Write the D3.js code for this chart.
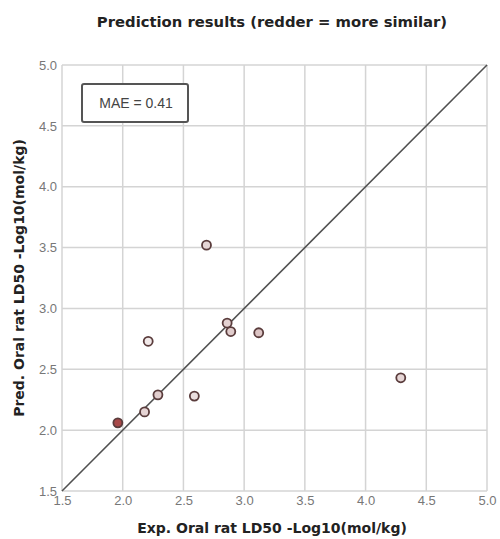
<!DOCTYPE html>
<html>
<head>
<meta charset="utf-8">
<script src="https://cdn.jsdelivr.net/npm/d3@7"></script>
<style>
  body { margin: 0; background: #fff; }
  text { font-family: "Liberation Sans", Arial, sans-serif; }
  .lbl { font-family: "DejaVu Sans", Verdana, sans-serif; font-weight: bold; }
</style>
</head>
<body>
<div id="chart"></div>
<script>
var expValues = [2.69, 2.21, 2.86, 2.89, 3.12, 4.29, 2.59, 2.29, 2.18, 1.96];
var predValues = [3.52, 2.73, 2.88, 2.81, 2.80, 2.43, 2.28, 2.29, 2.15, 2.06];
var fillColors = ["#e6d6d6", "#f2eaea", "#e4d2d2", "#e0cccc", "#dcc4c4", "#e6d6d6", "#eadede", "#e2cece", "#e6d4d4", "#a84848"];
var tickValues = [1.5, 2.0, 2.5, 3.0, 3.5, 4.0, 4.5, 5.0];
var maeText = "MAE = 0.41";

var width = 500, height = 539;
var plotLeft = 62, plotRight = 487, plotTop = 65, plotBottom = 491;

var svg = d3.select("#chart")
    .append("svg")
    .attr("width", width)
    .attr("height", height)

var x = d3.scaleLinear().domain([1.5, 5.0]).range([plotLeft, plotRight]);
var y = d3.scaleLinear().domain([1.5, 5.0]).range([plotBottom, plotTop]);

// grid
var grid = svg.append("g").attr("class", "grid")
grid.selectAll(".vline")
    .data(tickValues)
    .enter().append("line")
    .attr("class", "vline")
    .attr("x1", d => x(d)).attr("x2", d => x(d))
    .attr("y1", plotTop).attr("y2", plotBottom)
    .attr("stroke", "#d4d4d4")
    .attr("stroke-width", 1.5)
grid.selectAll(".hline")
    .data(tickValues)
    .enter().append("line")
    .attr("class", "hline")
    .attr("y1", d => y(d)).attr("y2", d => y(d))
    .attr("x1", plotLeft).attr("x2", plotRight)
    .attr("stroke", "#d4d4d4")
    .attr("stroke-width", 1.5)

// axes (labels only, gray)
svg.append("g")
    .attr("transform", "translate(0," + plotBottom + ")")
    .call(d3.axisBottom(x).tickValues(tickValues).tickFormat(d3.format(".1f")).tickSize(0).tickPadding(5))
svg.append("g")
    .attr("transform", "translate(" + plotLeft + ",0)")
    .call(d3.axisLeft(y).tickValues(tickValues).tickFormat(d3.format(".1f")).tickSize(0).tickPadding(5))

svg.selectAll(".domain").remove()
svg.selectAll(".tick text")
    .attr("fill", "#777")
    .style("font-size", "13px")
    .style("font-family", "Liberation Sans, Arial, sans-serif")

// diagonal
svg.append("line")
    .attr("x1", x(1.5)).attr("y1", y(1.5))
    .attr("x2", x(5.0)).attr("y2", y(5.0))
    .attr("stroke", "#505050")
    .attr("stroke-width", 1.6)

// points
svg.append("g").selectAll("circle")
    .data(expValues)
    .enter().append("circle")
    .attr("cx", d => x(d))
    .attr("cy", (d, i) => y(predValues[i]))
    .attr("r", 4.5)
    .attr("fill", (d, i) => fillColors[i])
    .attr("stroke", "#5a3c3c")
    .attr("stroke-width", 1.8)

// MAE box
svg.append("rect")
    .attr("x", 82).attr("y", 84)
    .attr("width", 106).attr("height", 38)
    .attr("rx", 2)
    .attr("fill", "#fff")
    .attr("stroke", "#555")
    .attr("stroke-width", 2)
svg.append("text")
    .attr("x", 136).attr("y", 108)
    .attr("text-anchor", "middle")
    .attr("fill", "#444")
    .style("font-size", "14px")
    .text(maeText)

// titles
svg.append("text")
    .attr("class", "lbl")
    .attr("x", 272).attr("y", 27)
    .attr("text-anchor", "middle")
    .attr("fill", "#222")
    .style("font-size", "14.8px")
    .text("Prediction results (redder = more similar)")

svg.append("text")
    .attr("class", "lbl")
    .attr("x", 272).attr("y", 533)
    .attr("text-anchor", "middle")
    .attr("fill", "#222")
    .style("font-size", "14px")
    .text("Exp. Oral rat LD50 -Log10(mol/kg)")

svg.append("text")
    .attr("class", "lbl")
    .attr("transform", "translate(24," + ((plotTop + plotBottom) / 2) + ") rotate(-90)")
    .attr("text-anchor", "middle")
    .attr("fill", "#222")
    .style("font-size", "14px")
    .text("Pred. Oral rat LD50 -Log10(mol/kg)")
</script>
</body>
</html>
